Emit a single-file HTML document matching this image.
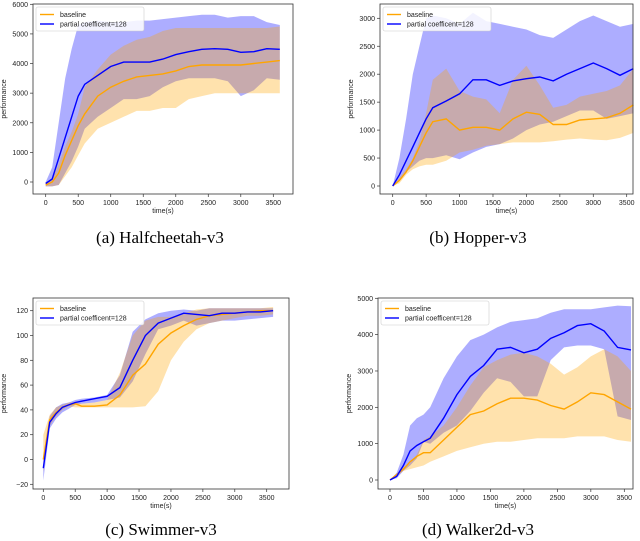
<!DOCTYPE html>
<html><head><meta charset="utf-8">
<style>
body{margin:0;background:#fff;width:640px;height:541px;overflow:hidden;font-family:"Liberation Sans",sans-serif}
svg{position:absolute;left:0;top:0}
.cap{font-family:"Liberation Serif",serif;font-size:17px}
</style></head>
<body>
<svg id="fig" width="640" height="541"></svg>
<script>
const T = [0,100,200,300,400,500,600,800,1000,1200,1400,1600,1800,2000,2200,2400,2600,2800,3000,3200,3400,3600];
const xTicks = [0,500,1000,1500,2000,2500,3000,3500];
// (a) Halfcheetah
const hcBlue = [-50,100,800,1500,2200,2900,3300,3600,3900,4050,4050,4050,4150,4300,4400,4480,4500,4480,4380,4400,4500,4480];
const hcBlueUp = [0,500,2000,3500,4500,5300,5400,5450,5400,5400,5450,5450,5500,5550,5600,5650,5650,5550,5600,5600,5400,5300];
const hcBlueLo = [-150,-150,-100,300,700,1200,1800,2200,2500,2800,2800,2900,3200,3400,3500,3500,3500,3400,2900,3100,3500,3450];
const hcOrange = [-100,0,300,900,1400,1900,2300,2900,3200,3400,3550,3600,3650,3750,3900,3950,3950,3950,3950,4000,4050,4100];
const hcOrangeUp = [0,100,600,1200,1700,2300,3200,3800,4300,4600,4800,4900,5100,5200,5200,5200,5200,5200,5200,5200,5200,5250];
const hcOrangeLo = [-150,-150,-100,200,500,900,1300,1800,2000,2200,2400,2400,2500,2500,2800,2900,3000,3000,3000,3000,3000,3000];
const hcYTicks = [0,1000,2000,3000,4000,5000,6000];
// (b) Hopper
const hpBlue = [0,200,450,700,950,1200,1400,1520,1650,1900,1900,1800,1880,1920,1950,1880,2000,2100,2200,2100,1980,2100];
const hpBlueUp = [0,500,1200,2000,2500,3000,3050,3000,2900,3100,2950,2900,2850,2800,2700,2650,2800,2950,3050,2950,2850,2900];
const hpBlueLo = [0,100,250,350,450,500,500,550,480,600,700,750,850,1000,1100,1150,1250,1350,1350,1200,1250,1300];
const hpOrange = [0,100,250,450,700,950,1150,1200,1000,1050,1050,1000,1200,1320,1280,1100,1100,1180,1200,1220,1300,1450];
const hpOrangeUp = [0,150,300,500,800,1300,1900,2100,1700,1600,1550,1300,1900,2150,1800,1400,1450,1600,1650,1700,1800,2100];
const hpOrangeLo = [0,50,200,300,350,380,380,450,600,650,720,750,780,780,780,800,830,850,830,820,860,950];
const hpYTicks = [0,500,1000,1500,2000,2500,3000];
// (c) Swimmer
const swBlue = [-7,30,37,42,44,46,47,49,51,58,80,100,110,114,118,117,116,118,118,119,119,120];
const swBlueUp = [-5,35,42,45,46,48,49,50,52,68,103,113,118,120,121,120,122,122,122,122,122,122];
const swBlueLo = [-17,25,33,38,41,44,45,46,48,50,63,85,105,108,112,108,110,112,112,113,114,115];
const swOrange = [0,32,38,42,44,45,43,43,44,52,68,77,93,102,108,113,116,117,118,119,120,120];
const swOrangeUp = [20,36,42,44,46,46,45,46,48,70,100,112,115,115,118,121,122,122,122,122,122,123];
const swOrangeLo = [-10,27,35,40,43,42,42,42,42,42,42,43,55,80,95,105,110,112,114,116,116,117];
const swYTicks = [-20,0,20,40,60,80,100,120];
// (d) Walker2d
const wkBlue = [0,100,400,800,950,1050,1150,1700,2350,2850,3150,3600,3650,3500,3600,3900,4050,4250,4300,4100,3650,3580];
const wkBlueUp = [0,200,700,1500,1700,1800,2000,2800,3400,3850,4000,4200,4350,4400,4450,4600,4700,4700,4700,4750,4800,4780];
const wkBlueLo = [0,50,250,400,600,1050,1000,1300,1500,1900,2400,2800,2700,2300,2300,3300,3650,3700,3700,3600,1750,1650];
const wkOrange = [0,150,300,500,650,750,750,1100,1450,1800,1900,2100,2250,2250,2200,2050,1950,2150,2400,2350,2150,1950];
const wkOrangeUp = [0,100,350,450,700,1100,1200,1500,2000,2600,3100,3300,3450,3500,3400,3200,2900,3100,3400,3600,3400,3000];
const wkOrangeLo = [0,100,250,300,350,400,500,650,800,900,1000,1050,1050,1100,1150,1150,1150,1200,1200,1200,1100,1050];
const wkYTicks = [0,1000,2000,3000,4000,5000];

const NS='http://www.w3.org/2000/svg';
const svg=document.getElementById('fig');
function mk(tag,attrs,parent){const e=document.createElementNS(NS,tag);for(const k in attrs)e.setAttribute(k,attrs[k]);(parent||svg).appendChild(e);return e;}

function chart(id,box,yMin,yMax,yMinPx,yMaxPx,x0px,x3500px,yTicks,S,caption,capX,capY){
  const g=mk('g',{});
  
  
  const X=t=>x0px+t*(x3500px-x0px)/3500;
  const Y=v=>yMinPx+(v-yMin)*(yMaxPx-yMinPx)/(yMax-yMin);
  function band(up,lo,col,name){
    let d='M'+T.map((t,i)=>X(t).toFixed(1)+','+Y(up[i]).toFixed(1)).join('L');
    for(let i=T.length-1;i>=0;i--)d+='L'+X(T[i]).toFixed(1)+','+Y(lo[i]).toFixed(1);
    const p=mk('path',{d:d+'Z',fill:col,'fill-opacity':0.32,stroke:'none'},g);
    
    
  }
  function line(v,col,name){
    const p=mk('polyline',{points:T.map((t,i)=>X(t).toFixed(1)+','+Y(v[i]).toFixed(1)).join(' '),fill:'none',stroke:col,'stroke-width':1.4},g);
    
    
  }
  band(S[2],S[3],'#0000ff','blue-band');
  band(S[4],S[5],'#ffa500','orange-band');
  line(S[1],'#ffa500','baseline-line');
  line(S[0],'#0000ff','partial-line');
  const r=mk('rect',{x:box[0],y:box[1],width:box[2]-box[0],height:box[3]-box[1],fill:'none',stroke:'#333','stroke-width':0.8},g);
  
  
  yTicks.forEach(v=>{
    mk('line',{x1:box[0]-3,x2:box[0],y1:Y(v),y2:Y(v),stroke:'#333','stroke-width':0.7},g);
    const t=mk('text',{x:box[0]-5,y:Y(v)+2.5,'font-size':7,'text-anchor':'end',fill:'#222'},g);
    t.textContent=v<0?'\u2212'+(-v):v;
    
    
  });
  xTicks.forEach(v=>{
    mk('line',{x1:X(v),x2:X(v),y1:box[3],y2:box[3]+3,stroke:'#333','stroke-width':0.7},g);
    const t=mk('text',{x:X(v),y:box[3]+11,'font-size':7,'text-anchor':'middle',fill:'#222'},g);
    t.textContent=v;
    
    
  });
  const xl=mk('text',{x:(box[0]+box[2])/2,y:box[3]+19,'font-size':7,'text-anchor':'middle',fill:'#222'},g);
  xl.textContent='time(s)';
  
  
  const yc=(box[1]+box[3])/2, yx=box[0]-27;
  const yl=mk('text',{x:yx,y:yc,'font-size':7,'text-anchor':'middle',fill:'#222',transform:`rotate(-90 ${yx} ${yc})`},g);
  yl.textContent='performance';
  
  
  const lg=mk('g',{},g);
  
  
  const lx=box[0]+3, ly=box[1]+3;
  mk('rect',{x:lx,y:ly,width:108,height:24,fill:'#fff','fill-opacity':0.85,stroke:'#ccc','stroke-width':0.6,rx:2},lg);
  mk('line',{x1:lx+4,x2:lx+18,y1:ly+7.5,y2:ly+7.5,stroke:'#ffa500','stroke-width':1.4},lg);
  mk('line',{x1:lx+4,x2:lx+18,y1:ly+17,y2:ly+17,stroke:'#0000ff','stroke-width':1.4},lg);
  const a=mk('text',{x:lx+24,y:ly+10,'font-size':7,fill:'#222'},lg);a.textContent='baseline';
  
  
  const b=mk('text',{x:lx+24,y:ly+19.5,'font-size':7,fill:'#222'},lg);b.textContent='partial coefficent=128';
  
  
  const c=mk('text',{x:capX,y:capY,'class':'cap','text-anchor':'middle',fill:'#000'});
  c.textContent=caption;
  
  
}
chart('halfcheetah',[33,4,293,194],0,6000,182,4.3,45.7,273.3,hcYTicks,[hcBlue,hcOrange,hcBlueUp,hcBlueLo,hcOrangeUp,hcOrangeLo],'(a)  Halfcheetah-v3',160,243);
chart('hopper',[380,4,633,194],0,3000,186,18.3,392.7,626.7,hpYTicks,[hpBlue,hpOrange,hpBlueUp,hpBlueLo,hpOrangeUp,hpOrangeLo],'(b)  Hopper-v3',478,243);
chart('swimmer',[33,298,289,489],-20,120,484.3,310.7,43.3,266.7,swYTicks,[swBlue,swOrange,swBlueUp,swBlueLo,swOrangeUp,swOrangeLo],'(c)  Swimmer-v3',161,535);
chart('walker2d',[378,298,633,489],0,5000,480,298.3,390,624.3,wkYTicks,[wkBlue,wkOrange,wkBlueUp,wkBlueLo,wkOrangeUp,wkOrangeLo],'(d)  Walker2d-v3',478,535);
</script>
</body></html>
